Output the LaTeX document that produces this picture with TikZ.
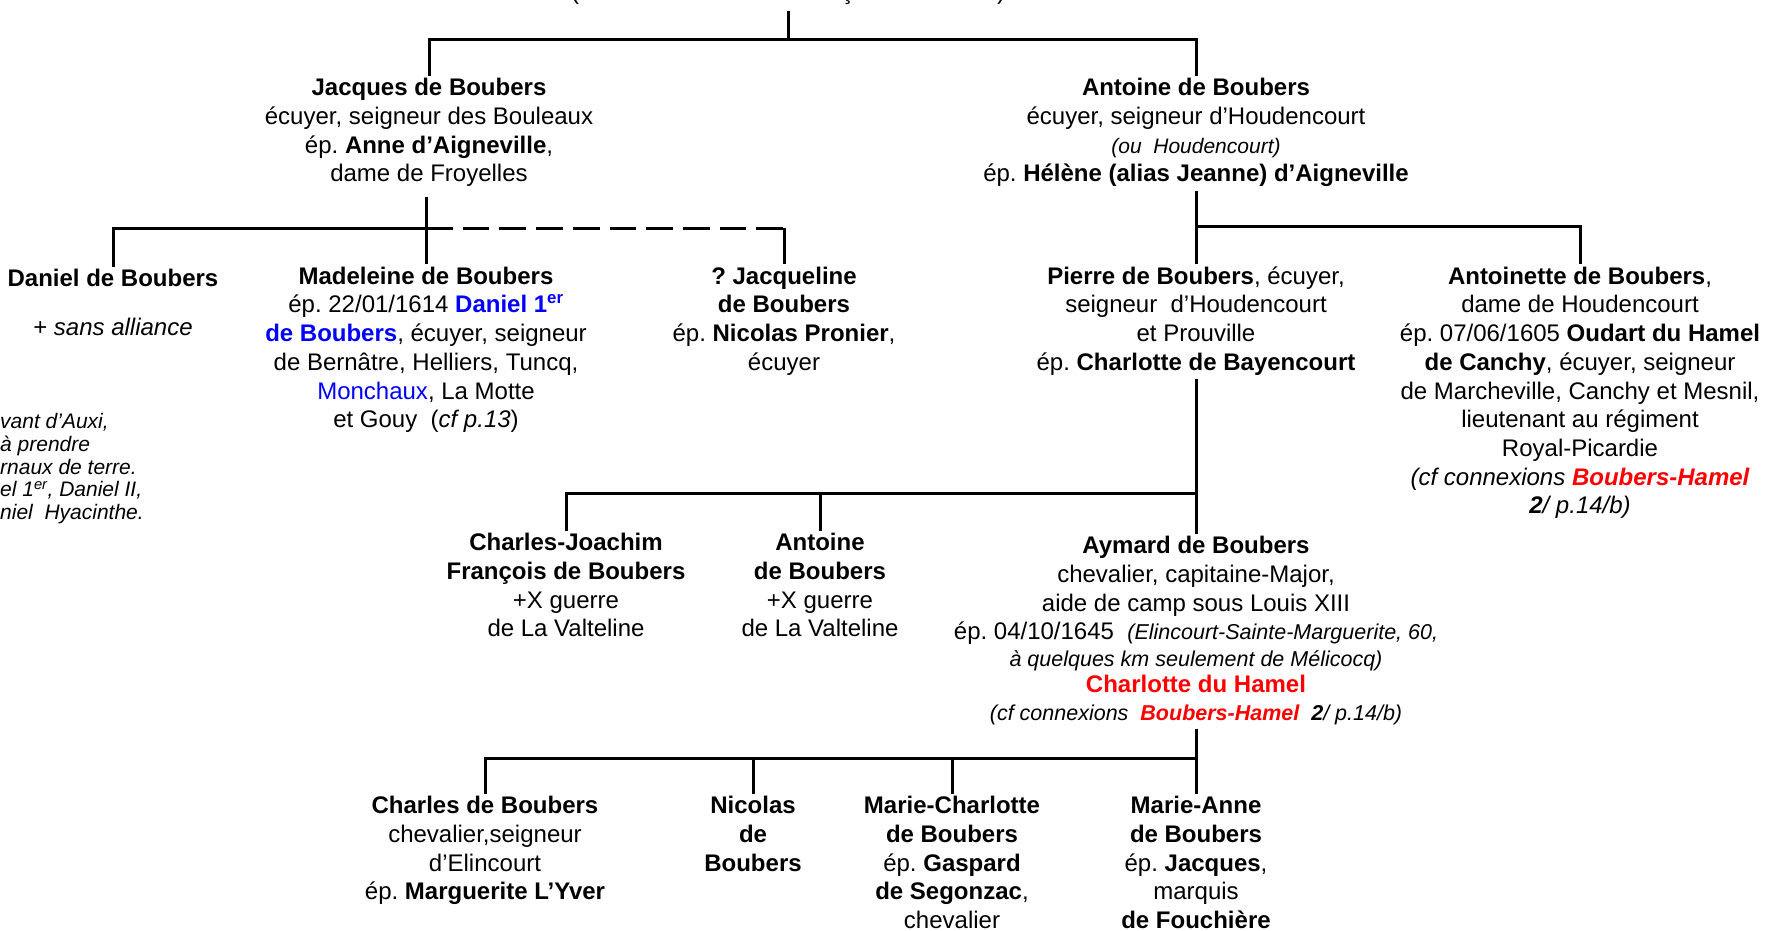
\documentclass[tikz,border=0pt]{standalone}
\usepackage{fontspec}
\setmainfont{Liberation Sans}
\frenchspacing
\newcommand{\firstln}{\rule{0pt}{20pt}}
\newcommand{\smit}[1]{{\fontsize{21.5}{26}\selectfont\itshape #1}}
\newcommand{\redb}[1]{\textcolor{red}{\textbf{#1}}}
\newcommand{\blueb}[1]{\textcolor{blue}{\textbf{#1}}}
\begin{document}
\begin{tikzpicture}[x=1pt,y=-1pt,
  person/.style={anchor=north, align=center, inner sep=0pt, font=\fontsize{24}{28.7}\selectfont},
  note/.style={anchor=north west, align=left, inner sep=0pt, font=\fontsize{21}{22.9}\selectfont\itshape},
  topfrag/.style={anchor=base, inner sep=0pt, font=\fontsize{24}{28.7}\selectfont},
  link/.style={line width=3pt},
  dlink/.style={line width=3pt, dash pattern=on 26.7pt off 10pt}]
\useasboundingbox (0,0) rectangle (1766,930);

% cut-off text at the top
\node[topfrag] (topA) at (575,-1) {(};
\node[topfrag] (topB) at (847,-1) {ç};
\node[topfrag] (topC) at (1001,-1) {)};

% generation 1
\node[person] (jacques) at (429,75.5) {\firstln\textbf{Jacques de Boubers}\\
  écuyer, seigneur des Bouleaux\\
  ép. \textbf{Anne d’Aigneville},\\
  dame de Froyelles};
\node[person] (antoine) at (1196,75.5) {\firstln\textbf{Antoine de Boubers}\\
  écuyer,\ seigneur\ d’Houdencourt\\
  {\fontsize{21}{24}\selectfont\itshape (ou\ \ Houdencourt)}\\
  ép. \textbf{Hélène (alias Jeanne) d’Aigneville}};

% generation 2
\node[person] (daniel) at (113,266.5) {\firstln\textbf{Daniel de Boubers}\\[20.3pt]
  + \textit{sans\ alliance}};
\node[note] (leftnote) at (0,412) {\rule{0pt}{16pt}vant\ d’Auxi,\\
  à\ prendre\\
  rnaux\ de\ terre.\\
  el\ 1\textsuperscript{er},\ Daniel\ II,\\
  niel\ \ Hyacinthe.};
\node[person] (madeleine) at (426,264) {\firstln\textbf{Madeleine de Boubers}\\
  ép. 22/01/1614 \blueb{Daniel 1\textsuperscript{er}}\\
  \blueb{de Boubers}, écuyer, seigneur\\
  de Bernâtre, Helliers, Tuncq,\\
  \textcolor{blue}{Monchaux}, La Motte\\
  et Gouy\ \ (\textit{cf p.13})};
\node[person] (jacqueline) at (784,264) {\firstln\textbf{? Jacqueline}\\
  \textbf{de Boubers}\\
  ép. \textbf{Nicolas Pronier},\\
  écuyer};
\node[person] (pierre) at (1196,264) {\firstln\textbf{Pierre de Boubers}, écuyer,\\
  seigneur\ \ d’Houdencourt\\
  et Prouville\\
  ép. \textbf{Charlotte de Bayencourt}};
\node[person] (antoinette) at (1580,264) {\firstln\textbf{Antoinette de Boubers},\\
  dame\ de\ Houdencourt\\
  ép. 07/06/1605 \textbf{Oudart du Hamel}\\
  \textbf{de Canchy}, écuyer, seigneur\\
  de Marcheville, Canchy et Mesnil,\\
  lieutenant\ au\ régiment\\
  Royal-Picardie\\
  \textit{(cf connexions \redb{Boubers-Hamel}}\\
  \textbf{\textit{2}}\textit{/ p.14/b)}};

% generation 3
\node[person] (charlesj) at (566,530.5) {\firstln\textbf{Charles-Joachim}\\
  \textbf{François de Boubers}\\
  +X guerre\\
  de La Valteline};
\node[person] (antoine2) at (820,530.5) {\firstln\textbf{Antoine}\\
  \textbf{de Boubers}\\
  +X guerre\\
  de La Valteline};
\node[person] (aymard) at (1196,533.5) {\firstln\textbf{Aymard de Boubers}\\
  chevalier, capitaine-Major,\\
  aide de camp sous Louis XIII\\
  ép.\ 04/10/1645\ \ \smit{(Elincourt-Sainte-Marguerite,\ 60,}\\[-2.5pt]
  \smit{à\ quelques\ km\ seulement\ de\ Mélicocq)}\\[-2.5pt]
  \redb{Charlotte du Hamel}\\
  \smit{(cf\ connexions\ \ \redb{Boubers-Hamel}\ \ \textbf{2}/\ p.14/b)}};

% generation 4
\node[person] (charles) at (485,793.5) {\firstln\textbf{Charles de Boubers}\\
  chevalier,seigneur\\
  d’Elincourt\\
  ép. \textbf{Marguerite L’Yver}};
\node[person] (nicolas) at (753,793.5) {\firstln\textbf{Nicolas}\\
  \textbf{de}\\
  \textbf{Boubers}};
\node[person] (mariec) at (952,793.5) {\firstln\textbf{Marie-Charlotte}\\
  \textbf{de Boubers}\\
  ép. \textbf{Gaspard}\\
  \textbf{de Segonzac},\\
  chevalier};
\node[person] (mariea) at (1196,793.5) {\firstln\textbf{Marie-Anne}\\
  \textbf{de Boubers}\\
  ép. \textbf{Jacques},\\
  marquis\\
  \textbf{de Fouchière}};

% connectors
\coordinate (r0) at (788,11);
\coordinate (r1) at (788,39);
\draw[link] (r0) -- (r1);
\draw[link] (jacques.north) -- (jacques.north |- r1) -- (antoine.north |- r1) -- (antoine.north);

\coordinate (jb) at (426,228);
\draw[link] ([yshift=-10pt]jacques.south -| madeleine.north) -- (madeleine.north);
\draw[link] (daniel.north) -- (daniel.north |- jb) -- (jb);
\draw[dlink] (jb) -- (jacqueline.north |- jb);
\draw[link] (jacqueline.north |- jb) -- (jacqueline.north);

\coordinate (ab) at (1196,226);
\draw[link] ([yshift=-4pt]antoine.south) -- (pierre.north);
\draw[link] (ab) -- (antoinette.north |- ab) -- (antoinette.north);

\coordinate (pb) at (1196,493);
\draw[link] ([yshift=-4pt]pierre.south) -- (aymard.north);
\draw[link] (pb) -- (charlesj.north |- pb) -- (charlesj.north);
\draw[link] (antoine2.north |- pb) -- (antoine2.north);

\coordinate (yb) at (1196,758);
\draw[link] ([yshift=-3pt]aymard.south) -- (mariea.north);
\draw[link] (yb) -- (charles.north |- yb) -- (charles.north);
\draw[link] (nicolas.north |- yb) -- (nicolas.north);
\draw[link] (mariec.north |- yb) -- (mariec.north);
\end{tikzpicture}
\end{document}
